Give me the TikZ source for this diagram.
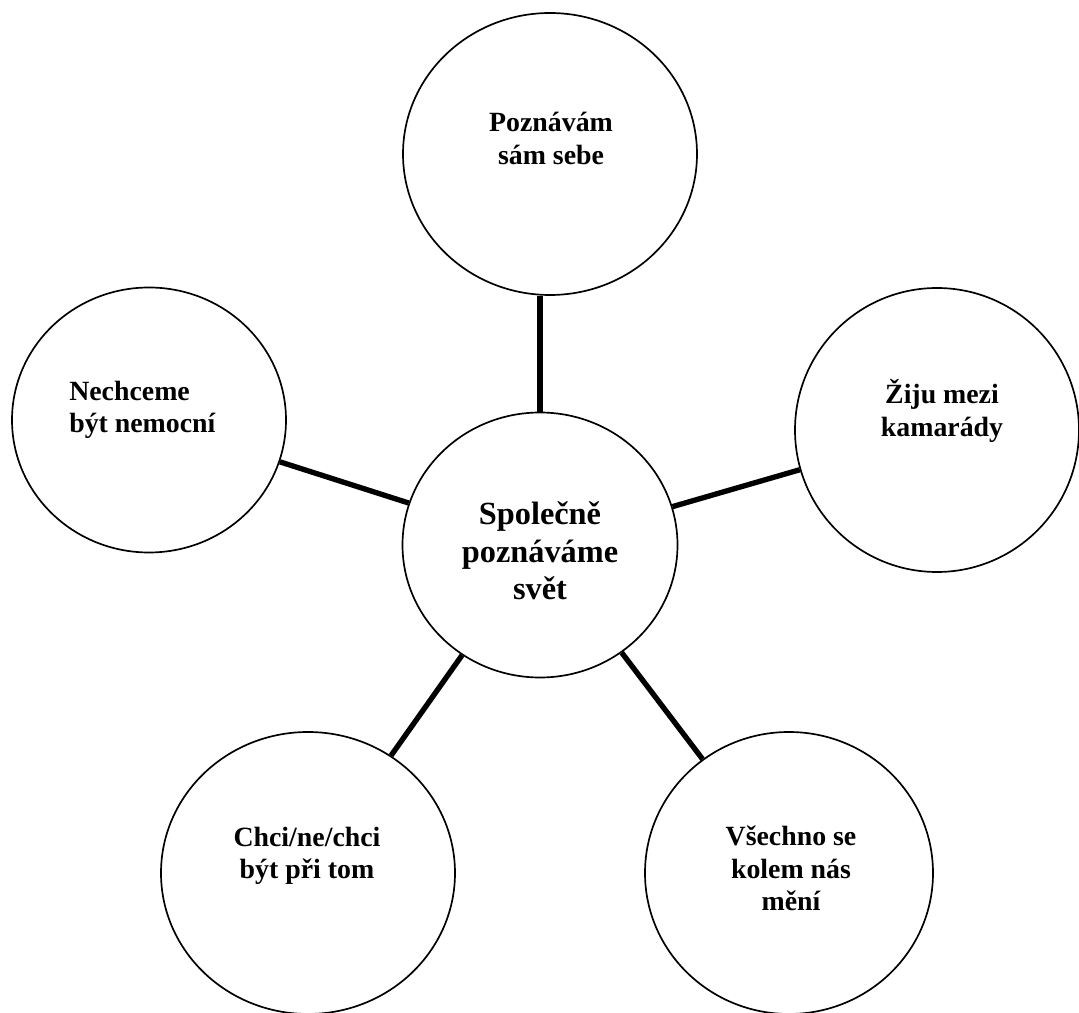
\documentclass[tikz,border=0pt]{standalone}
\usepackage{fontspec}
\setmainfont{Liberation Serif}
\usetikzlibrary{shapes.geometric}
\begin{document}
\begin{tikzpicture}[
        bsty/.style={ellipse,draw,line width=1.2pt,inner sep=0pt},
        tsty/.style={font=\fontsize{19.8}{23}\selectfont\bfseries,align=center,inner sep=0pt},
        msty/.style={font=\fontsize{23}{26.5}\selectfont\bfseries,align=center,inner sep=0pt},
        lsty/.style={line width=3.8pt},
        ]

    \useasboundingbox (0,0) rectangle (26.975,25.3);

    \node (svet) at (13.5,11.675) [bsty,minimum width=6.875cm,minimum height=6.625cm] {};
    \node (sam) at (13.75,21.45) [bsty,minimum width=7.35cm,minimum height=7.05cm] {};
    \node (nemoc) at (3.725,14.8) [bsty,minimum width=6.85cm,minimum height=6.625cm] {};
    \node (kamar) at (23.425,14.55) [bsty,minimum width=7.1cm,minimum height=7.1cm] {};
    \node (chci) at (7.7,3.475) [bsty,minimum width=7.35cm,minimum height=7.05cm] {};
    \node (meni) at (19.725,3.475) [bsty,minimum width=7.2cm,minimum height=7.05cm] {};

    \node (svet-t) at (13.5,11.525) [msty] {Společně\\poznáváme\\svět};
    \node (sam-t) at (13.775,21.84) [tsty] {Poznávám\\sám sebe};
    \node (nemoc-t) at (1.725,15.05) [tsty,anchor=west,align=left] {Nechceme\\být nemocní};
    \node (kamar-t) at (23.55,15.025) [tsty] {Žiju mezi\\kamarády};
    \node (chci-t) at (7.675,3.9) [tsty] {Chci/ne/chci\\být při tom};
    \node (meni-t) at (19.775,3.59) [tsty] {Všechno se\\kolem nás\\mění};

    \draw[lsty] (svet.north) -- (svet.north |- sam.south);
    \draw[lsty] (svet) -- (nemoc);
    \draw[lsty] (svet) -- (kamar);
    \draw[lsty] (svet) -- (chci);
    \draw[lsty] (svet) -- (meni);

\end{tikzpicture}
\end{document}
